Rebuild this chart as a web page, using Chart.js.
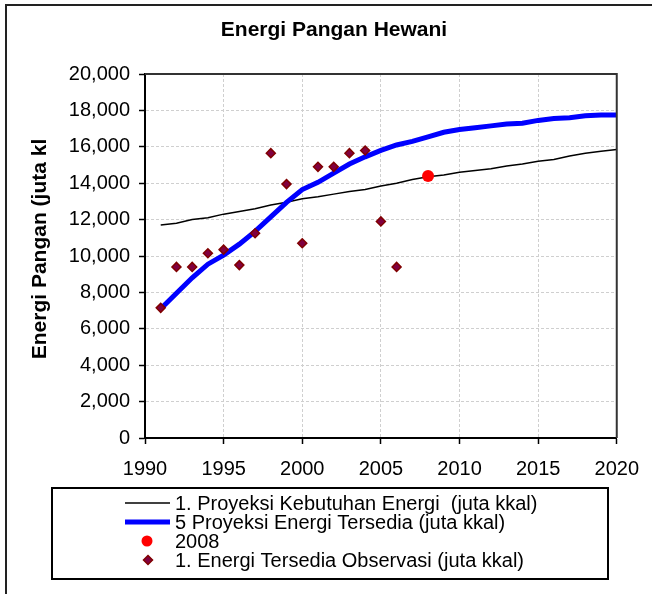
<!DOCTYPE html>
<html>
<head>
<meta charset="utf-8">
<title>Energi Pangan Hewani</title>
<script src="https://cdn.jsdelivr.net/npm/chart.js@4.4.1/dist/chart.umd.min.js"></script>
<style>
    body { margin: 0; background: #fff; }
    #wrap { position: relative; width: 652px; height: 594px; }
</style>
</head>
<body>
<div id="wrap"><canvas id="chart"></canvas></div>
<script>
// Tahun proyeksi
const years = [1991, 1992, 1993, 1994, 1995, 1996, 1997, 1998, 1999, 2000,
    2001, 2002, 2003, 2004, 2005, 2006, 2007, 2008, 2009, 2010,
    2011, 2012, 2013, 2014, 2015, 2016, 2017, 2018, 2019, 2020];

// 1. Proyeksi Kebutuhan Energi (juta kkal)
const kebutuhan = [11700, 11800, 12000, 12100, 12300, 12450, 12600, 12800, 12950, 13150,
    13250, 13400, 13550, 13650, 13850, 14000, 14200, 14350, 14450, 14600,
    14700, 14800, 14950, 15050, 15200, 15300, 15500, 15650, 15750, 15850];

// 5 Proyeksi Energi Tersedia (juta kkal)
const tersedia = [7100, 7950, 8800, 9550, 10050, 10650, 11350, 12150, 12950, 13650,
    14050, 14550, 15050, 15450, 15800, 16100, 16300, 16550, 16800, 16950,
    17050, 17150, 17250, 17300, 17450, 17550, 17600, 17700, 17750, 17750];

// Observasi
const obsYears = [1991, 1992, 1993, 1994, 1995, 1996, 1997, 1998,
    1999, 2000, 2001, 2002, 2003, 2004, 2005, 2006];
const observasi = [7150, 9400, 9400, 10150, 10350, 9500, 11250, 15650,
    13950, 10700, 14900, 14900, 15650, 15800, 11900, 9400];

// Titik 2008
const pointYear = [2008];
const pointValue = [14400];

const xTicks = [1990, 1995, 2000, 2005, 2010, 2015, 2020];

const legendLabels = [
    "1. Proyeksi Kebutuhan Energi  (juta kkal)",
    "5 Proyeksi Energi Tersedia (juta kkal)",
    "2008",
    "1. Energi Tersedia Observasi (juta kkal)"
];

function toPoints(xs, ys) {
    return xs.map((x, i) => ({ x: x, y: ys[i] }));
}

const FONT = '"Liberation Sans", Arial, sans-serif';

// Bingkai, judul, judul sumbu dan legenda
const decor = {
    id: "decor",
    beforeDraw(chart) {
        const ctx = chart.ctx;
        ctx.save();
        ctx.fillStyle = "#fff";
        ctx.fillRect(0, 0, chart.width, chart.height);
        ctx.restore();
    },
    afterDraw(chart) {
        const ctx = chart.ctx;
        const area = chart.chartArea;
        ctx.save();

        // bingkai luar
        ctx.strokeStyle = "#222";
        ctx.lineWidth = 2;
        ctx.beginPath();
        ctx.moveTo(6, chart.height);
        ctx.lineTo(6, 5);
        ctx.lineTo(chart.width, 5);
        ctx.stroke();

        // sisi atas dan kanan area plot
        ctx.strokeStyle = "#333";
        ctx.lineWidth = 2;
        ctx.beginPath();
        ctx.moveTo(area.left, area.top);
        ctx.lineTo(area.right, area.top);
        ctx.lineTo(area.right, area.bottom);
        ctx.stroke();

        // judul
        ctx.fillStyle = "#000";
        ctx.textAlign = "center";
        ctx.textBaseline = "middle";
        ctx.font = "bold 21px " + FONT;
        ctx.fillText("Energi Pangan Hewani", 334, 30);

        // judul sumbu y
        ctx.save();
        ctx.translate(40, 249);
        ctx.rotate(-Math.PI / 2);
        ctx.font = "bold 21px " + FONT;
        ctx.fillText("Energi Pangan (juta kl", 0, 0);
        ctx.restore();

        // legenda
        ctx.strokeStyle = "#000";
        ctx.lineWidth = 2;
        ctx.strokeRect(52, 488, 556, 91);

        const rows = [503, 522, 541, 560];
        ctx.lineCap = "butt";
        ctx.strokeStyle = "#000";
        ctx.lineWidth = 1.5;
        ctx.beginPath();
        ctx.moveTo(125, rows[0]);
        ctx.lineTo(170, rows[0]);
        ctx.stroke();

        ctx.strokeStyle = "#0000ff";
        ctx.lineWidth = 5;
        ctx.beginPath();
        ctx.moveTo(125, rows[1]);
        ctx.lineTo(170, rows[1]);
        ctx.stroke();

        ctx.fillStyle = "#ff0000";
        ctx.beginPath();
        ctx.arc(147, rows[2], 5.5, 0, Math.PI * 2);
        ctx.fill();

        ctx.fillStyle = "#800040";
        ctx.strokeStyle = "#800000";
        ctx.lineWidth = 1.5;
        ctx.beginPath();
        ctx.moveTo(148, rows[3] - 4.5);
        ctx.lineTo(152.5, rows[3]);
        ctx.lineTo(148, rows[3] + 4.5);
        ctx.lineTo(143.5, rows[3]);
        ctx.closePath();
        ctx.fill();
        ctx.stroke();

        ctx.fillStyle = "#000";
        ctx.textAlign = "left";
        ctx.font = "20px " + FONT;
        legendLabels.forEach((label, i) => {
            ctx.fillText(label, 175, rows[i] + 1);
        });

        ctx.restore();
    }
};

const ctx = document.getElementById("chart").getContext("2d");
new Chart(ctx, {
    type: "line",
    data: {
        datasets: [
            {
                label: legendLabels[0],
                data: toPoints(years, kebutuhan),
                borderColor: "#000",
                borderWidth: 1.5,
                pointRadius: 0,
                fill: false,
                order: 4
            },
            {
                label: legendLabels[1],
                data: toPoints(years, tersedia),
                borderColor: "#0000ff",
                borderWidth: 5,
                pointRadius: 0,
                fill: false,
                order: 3
            },
            {
                label: legendLabels[2],
                data: toPoints(pointYear, pointValue),
                showLine: false,
                pointStyle: "circle",
                pointRadius: 6,
                backgroundColor: "#ff0000",
                borderColor: "#ff0000",
                borderWidth: 0,
                order: 2
            },
            {
                label: legendLabels[3],
                data: toPoints(obsYears, observasi),
                showLine: false,
                pointStyle: "rectRot",
                pointRadius: 4.5,
                backgroundColor: "#800040",
                borderColor: "#800000",
                borderWidth: 1.5,
                order: 1
            }
        ]
    },
    options: {
        responsive: true,
        maintainAspectRatio: false,
        animation: false,
        layout: { padding: { top: 74, right: 35, bottom: 0, left: 0 } },
        plugins: {
            legend: { display: false },
            title: { display: false },
            tooltip: { enabled: false }
        },
        scales: {
            x: {
                type: "linear",
                min: 1990,
                max: 2020,
                afterBuildTicks: (scale) => {
                    scale.ticks = xTicks.map((v) => ({ value: v }));
                },
                afterFit: (scale) => { scale.height = 156; },
                ticks: {
                    color: "#000",
                    font: { family: FONT, size: 20 },
                    padding: 13,
                    maxRotation: 0,
                    callback: (v) => String(v)
                },
                grid: {
                    color: "#cfcfcf",
                    lineWidth: 1,
                    tickColor: "#000",
                    tickLength: 6,
                    tickWidth: 1.5
                },
                border: { display: true, color: "#000", width: 2, dash: [3, 2] }
            },
            y: {
                min: 0,
                max: 20000,
                afterFit: (scale) => { scale.width = 145; },
                ticks: {
                    stepSize: 2000,
                    color: "#000",
                    font: { family: FONT, size: 20 },
                    padding: 9,
                    callback: (v) => v.toLocaleString("en-US")
                },
                grid: {
                    color: "#cfcfcf",
                    lineWidth: 1,
                    tickColor: "#000",
                    tickLength: 6,
                    tickWidth: 1.5
                },
                border: { display: true, color: "#000", width: 2, dash: [3, 2] }
            }
        }
    },
    plugins: [decor]
});
</script>
</body>
</html>
